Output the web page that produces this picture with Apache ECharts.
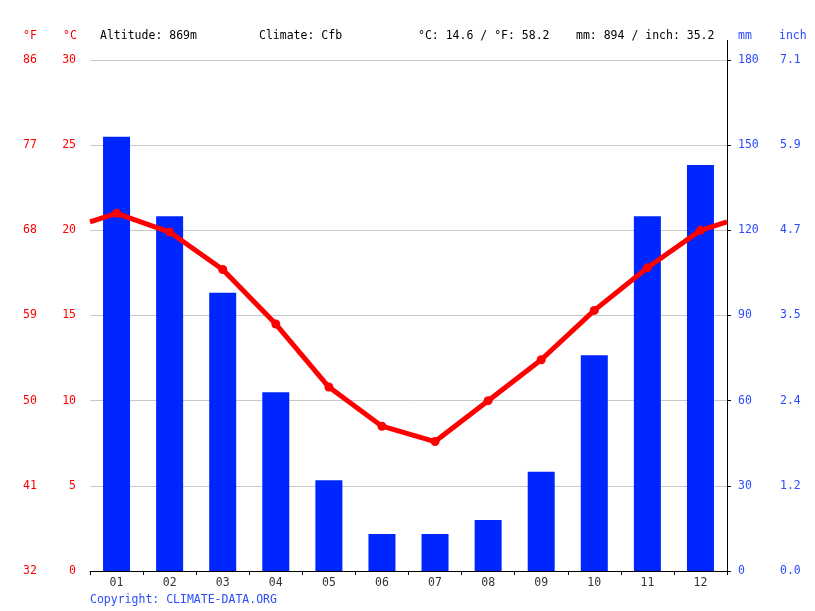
<!DOCTYPE html>
<html><head><meta charset="utf-8">
<script src="https://cdn.jsdelivr.net/npm/echarts@6/dist/echarts.min.js"></script>
<style>html,body{margin:0;padding:0;background:#fff}#c{width:815px;height:611px}</style>
</head><body><div id="c"></div>
<script>
const months = ['01','02','03','04','05','06','07','08','09','10','11','12'];
const precipMm = [153, 125, 98, 63, 32, 13, 13, 18, 35, 76, 125, 143];
const tempC = [21.0, 19.9, 17.7, 14.5, 10.8, 8.5, 7.6, 10.0, 12.4, 15.3, 17.8, 20.0];
const headerTexts = ['Altitude: 869m', 'Climate: Cfb', '°C: 14.6 / °F: 58.2', 'mm: 894 / inch: 35.2'];

const FONT = 'DejaVu Sans Mono';
const FS = 11.5;
const RED = '#ff0000';
const BLUE = '#2a4bff';

// line data on a 0..12 value axis; edge values wrap Dec->Jan
const edge = (tempC[0] + tempC[11]) / 2;
const lineData = [{value: [0, edge], symbol: 'none'}]
  .concat(tempC.map((t, i) => ({value: [i + 0.5, t]})))
  .concat([{value: [12, edge], symbol: 'none'}]);

const chart = echarts.init(document.getElementById('c'), null, {renderer: 'canvas'});
const txt = (x, y, s, color, align) => ({type: 'text', x: x, y: y,
  style: {text: s, fill: color, font: FS + 'px "' + FONT + '"', textAlign: align || 'left', textVerticalAlign: 'middle'}});

chart.setOption({
  animation: false,
  grid: {left: 90, right: 88, top: 60, bottom: 40},
  xAxis: [
    {type: 'category', data: months, position: 'bottom',
     axisLine: {lineStyle: {color: '#000', width: 1}},
     axisTick: {show: true, alignWithLabel: false, length: 4, lineStyle: {color: '#000'}},
     axisLabel: {color: '#333', fontFamily: FONT, fontSize: FS, margin: 6},
     splitLine: {show: false}},
    {type: 'value', min: 0, max: 12, show: false}
  ],
  yAxis: [
    {type: 'value', min: 0, max: 30, interval: 5, position: 'left',
     axisLine: {show: false}, axisTick: {show: false},
     axisLabel: {color: RED, fontFamily: FONT, fontSize: FS, margin: 14, padding: [2, 0, 0, 0]},
     splitLine: {lineStyle: {color: '#c8c8c8', width: 1}}},
    {type: 'value', min: 0, max: 30, interval: 5, position: 'left',
     axisLine: {show: false}, axisTick: {show: false},
     axisLabel: {color: RED, fontFamily: FONT, fontSize: FS, margin: 60, align: 'center', padding: [2, 0, 0, 0],
       formatter: v => String(Math.round(v * 9 / 5 + 32))},
     splitLine: {show: false}},
    {type: 'value', min: 0, max: 180, interval: 30, position: 'right',
     axisLine: {show: true, lineStyle: {color: '#000'}},
     axisTick: {show: true, length: 4, lineStyle: {color: '#000'}},
     axisLabel: {color: BLUE, fontFamily: FONT, fontSize: FS, margin: 11, align: 'left', padding: [2, 0, 0, 0]},
     splitLine: {show: false}},
    {type: 'value', min: 0, max: 180, interval: 30, position: 'right',
     axisLine: {show: false}, axisTick: {show: false},
     axisLabel: {color: BLUE, fontFamily: FONT, fontSize: FS, margin: 53, align: 'left', padding: [2, 0, 0, 0],
       formatter: v => (v / 25.4).toFixed(1)},
     splitLine: {show: false}}
  ],
  series: [
    {type: 'bar', xAxisIndex: 0, yAxisIndex: 2, data: precipMm, barWidth: 27,
     itemStyle: {color: '#0026ff'}, z: 2},
    {type: 'line', xAxisIndex: 1, yAxisIndex: 0, data: lineData,
     symbol: 'circle', symbolSize: 9,
     lineStyle: {color: RED, width: 5}, itemStyle: {color: RED}, z: 3}
  ],
  graphic: [
    {type: 'line', shape: {x1: 727.5, y1: 40, x2: 727.5, y2: 60}, style: {stroke: '#000', lineWidth: 1}},
    txt(30, 36, '°F', RED, 'center'),
    txt(70, 36, '°C', RED, 'center'),
    txt(100, 36, headerTexts[0], '#000'),
    txt(259, 36, headerTexts[1], '#000'),
    txt(418, 36, headerTexts[2], '#000'),
    txt(576, 36, headerTexts[3], '#000'),
    txt(738, 36, 'mm', BLUE),
    txt(779, 36, 'inch', BLUE),
    txt(90, 600, 'Copyright: CLIMATE-DATA.ORG', BLUE)
  ]
});
</script></body></html>
